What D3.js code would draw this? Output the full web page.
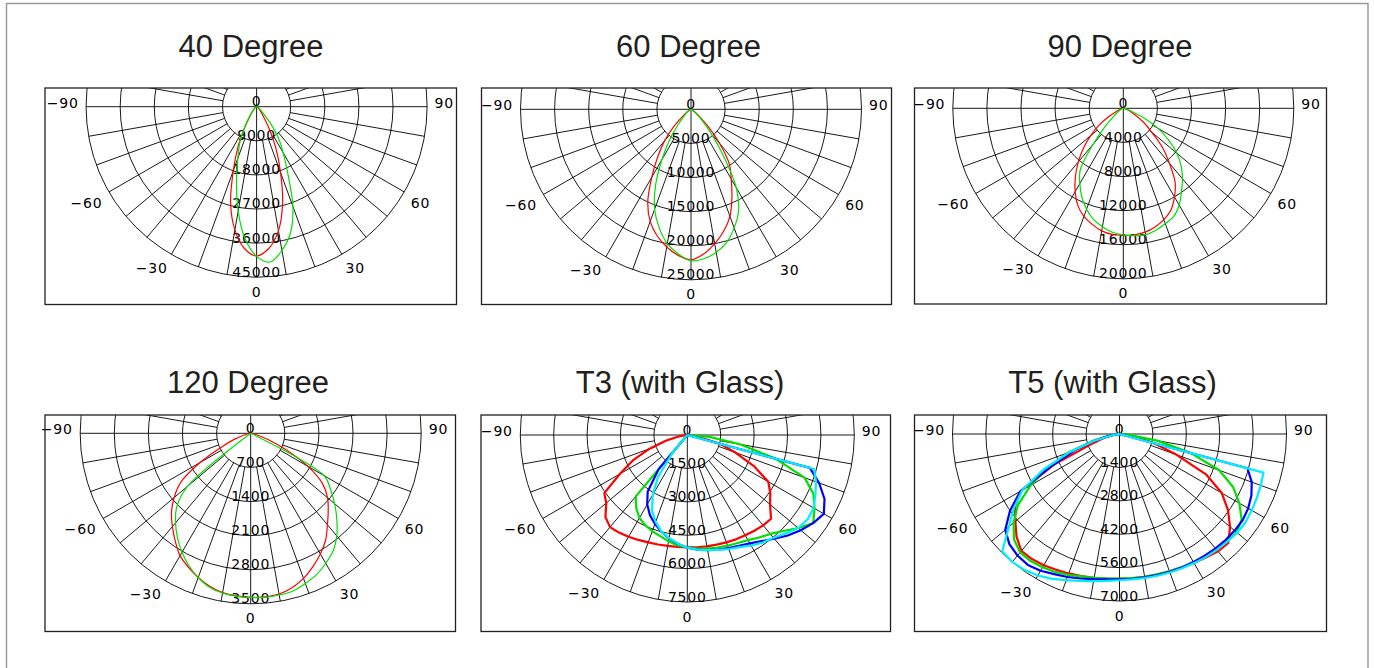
<!DOCTYPE html>
<html>
<head>
<meta charset="utf-8">
<script src="https://cdn.jsdelivr.net/npm/d3@7"></script>
<style>
  body { margin: 0; background: #fff; }
  svg { display: block; }
</style>
</head>
<body>
<svg id="chart" width="1374" height="668"></svg>
<script>
// gamma angles, degrees from nadir (negative = left side)
const angles = [-90, -85, -80, -75, -70, -65, -60, -55, -50, -45, -40, -35, -30, -25, -20, -15, -10, -5,
  0, 5, 10, 15, 20, 25, 30, 35, 40, 45, 50, 55, 60, 65, 70, 75, 80, 85, 90];

// ring labels per chart
const ticks40 = [0, 9000, 18000, 27000, 36000, 45000];
const ticks60 = [0, 5000, 10000, 15000, 20000, 25000];
const ticks90 = [0, 4000, 8000, 12000, 16000, 20000];
const ticks120 = [0, 700, 1400, 2100, 2800, 3500];
const ticksT3 = [0, 1500, 3000, 4500, 6000, 7500];
const ticksT5 = [0, 1400, 2800, 4200, 5600, 7000];

const angleLabels = [-90, -60, -30, 0, 30, 60, 90];

// intensity (cd)
const deg40Red = [0, 0, 0, 50, 100, 150, 300, 500, 700, 1000, 1800, 3000, 6000, 11500, 18000, 26500, 33000, 37500,
  39400, 37500, 33200, 26500, 18500, 12000, 6500, 3000, 1800, 1000, 700, 500, 300, 150, 100, 50, 0, 0, 0];
const deg40Green = [0, 0, 0, 50, 100, 200, 300, 500, 800, 1200, 2000, 3500, 6500, 10500, 14500, 20500, 28000, 35000,
  39500, 41150, 38500, 34500, 28000, 19500, 14000, 10000, 5500, 2500, 1500, 900, 500, 300, 150, 50, 0, 0, 0];

const deg60Red = [0, 0, 0, 50, 100, 200, 300, 700, 1500, 3500, 6000, 8500, 11500, 15000, 17500, 19200, 20500, 21500,
  22060, 21300, 20000, 18500, 16700, 14200, 11800, 9800, 6500, 3500, 1500, 700, 300, 200, 100, 50, 0, 0, 0];
const deg60Green = [0, 0, 0, 50, 100, 200, 300, 700, 1000, 1500, 3000, 5500, 8500, 12300, 15600, 18000, 20000, 21300,
  22200, 22000, 21300, 20200, 18500, 16500, 13300, 8300, 4500, 2200, 1000, 500, 300, 200, 100, 50, 0, 0, 0];

const deg90Red = [0, 0, 100, 250, 500, 1000, 2000, 3500, 5000, 6600, 8200, 9800, 11300, 12600, 13500, 14100, 14600, 14850,
  14900, 14900, 14750, 14400, 13900, 13200, 12000, 10600, 8400, 6500, 4300, 3000, 1800, 1000, 500, 250, 100, 0, 0];
const deg90Green = [0, 0, 0, 100, 200, 300, 500, 900, 1500, 3000, 5500, 8800, 10200, 11500, 12600, 13500, 14100, 14600,
  14850, 15000, 15050, 14800, 14400, 14000, 13100, 11900, 10800, 9600, 8200, 6500, 4700, 2500, 1000, 400, 100, 0, 0];

const deg120Red = [0, 20, 50, 150, 350, 650, 1200, 1750, 2050, 2300, 2500, 2700, 2900, 3030, 3150, 3250, 3320, 3350,
  3370, 3370, 3350, 3280, 3170, 3020, 2860, 2680, 2450, 2250, 2060, 1800, 1350, 800, 400, 150, 50, 20, 0];
const deg120Green = [0, 0, 0, 0, 0, 0, 0, 0, 1700, 2150, 2400, 2620, 2820, 3000, 3150, 3270, 3330, 3360,
  3370, 3380, 3370, 3350, 3280, 3200, 3080, 2950, 2750, 2500, 2250, 2000, 1740, 0, 0, 0, 0, 0, 0];

const t3Red = [0, 100, 400, 1000, 1800, 2700, 3500, 4550, 4750, 5200, 5400, 5350, 5280, 5200, 5130, 5090, 5060, 5045,
  5050, 5060, 5080, 5100, 5130, 5170, 5200, 5250, 5300, 5320, 4850, 4550, 4200, 3300, 2300, 1500, 500, 100, 0];
const t3Green = [0, 0, 0, 0, 0, 0, 0, 0, 0, 0, 3600, 4000, 4300, 4470, 4600, 4700, 4850, 4980,
  5050, 5120, 5180, 5230, 5290, 5350, 5450, 5620, 5800, 6100, 6500, 6900, 6600, 6250, 5600, 4100, 2400, 1000, 0];
const t3Blue = [0, 0, 0, 0, 0, 0, 0, 0, 0, 0, 2000, 3100, 3600, 3970, 4250, 4500, 4720, 4900,
  5060, 5170, 5250, 5330, 5400, 5490, 5620, 5820, 6080, 6380, 6650, 6900, 7080, 6800, 6300, 5700, 0, 0, 0];
const t3Cyan = [0, 0, 0, 0, 0, 0, 0, 0, 0, 0, 1000, 2300, 3100, 3750, 4150, 4490, 4700, 4900,
  5060, 5170, 5250, 5340, 5450, 5560, 5730, 5900, 6020, 6250, 6500, 6600, 6550, 6350, 6150, 5900, 0, 0, 0];

const t5Red = [0, 100, 300, 700, 1300, 3000, 4750, 5350, 5700, 6100, 6400, 6400, 6350, 6280, 6220, 6170, 6120, 6080,
  6070, 6070, 6080, 6100, 6120, 6160, 6240, 6320, 6420, 6450, 6050, 5550, 4950, 4000, 2550, 1500, 700, 200, 0];
const t5Green = [0, 100, 500, 1200, 2300, 3300, 4300, 5200, 5800, 6250, 6480, 6500, 6450, 6380, 6280, 6180, 6120, 6080,
  6060, 6060, 6075, 6090, 6120, 6160, 6200, 6250, 6300, 6360, 6410, 6250, 5800, 5250, 4450, 3100, 1600, 400, 0];
const t5Blue = [0, 100, 400, 1100, 2000, 3100, 4800, 5600, 6250, 6530, 6650, 6700, 6620, 6480, 6380, 6270, 6180, 6120,
  6090, 6090, 6100, 6120, 6150, 6180, 6200, 6230, 6260, 6290, 6300, 6300, 6230, 6100, 5900, 5550, 0, 0, 0];
const t5Cyan = [0, 100, 300, 1100, 2200, 3500, 4700, 5400, 6050, 6950, 7000, 6950, 6850, 6700, 6520, 6380, 6260, 6180,
  6130, 6120, 6130, 6150, 6180, 6210, 6250, 6300, 6340, 6385, 6440, 6450, 6400, 6350, 6300, 6250, 0, 0, 0];

const RED = "#ff0000", GREEN = "#00e000", BLUE = "#0000ff", CYAN = "#00eeff";
const smooth = d3.curveCatmullRom.alpha(0.5);

const panels = [
  { title: "40 Degree", tx: 251, ty: 57, box: [45, 88, 411.5, 216.5], cx: 256.6, cy: 106.7, r: 170.5,
    ticks: ticks40, lw: 1.2, curve: smooth, series: [[deg40Red, RED], [deg40Green, GREEN]] },
  { title: "60 Degree", tx: 688.5, ty: 57, box: [481.5, 88, 410, 216.5], cx: 691, cy: 109.3, r: 170.5,
    ticks: ticks60, lw: 1.2, curve: smooth, series: [[deg60Red, RED], [deg60Green, GREEN]] },
  { title: "90 Degree", tx: 1120, ty: 57, box: [914.5, 88, 412, 216], cx: 1123.3, cy: 108.3, r: 170.5,
    ticks: ticks90, lw: 1.2, curve: smooth, series: [[deg90Red, RED], [deg90Green, GREEN]] },
  { title: "120 Degree", tx: 248, ty: 393, box: [45, 415, 410.5, 216.5], cx: 250.7, cy: 433.3, r: 170.5,
    ticks: ticks120, lw: 1.2, curve: smooth, series: [[deg120Red, RED], [deg120Green, GREEN]] },
  { title: "T3 (with Glass)", tx: 680, ty: 393, box: [481, 415, 409.5, 216.5], cx: 687.3, cy: 435, r: 167,
    ticks: ticksT3, lw: 2.2, curve: d3.curveLinear, series: [[t3Red, RED], [t3Green, GREEN], [t3Blue, BLUE], [t3Cyan, CYAN]] },
  { title: "T5 (with Glass)", tx: 1112.5, ty: 393, box: [914.5, 415, 412, 216.5], cx: 1119.5, cy: 434, r: 167,
    ticks: ticksT5, lw: 2.2, curve: d3.curveLinear, series: [[t5Red, RED], [t5Green, GREEN], [t5Blue, BLUE], [t5Cyan, CYAN]] }
];

const svg = d3.select("#chart");
const rad = deg => deg * Math.PI / 180;

// outer frame
svg.append("rect")
  .attr("x", 6.5).attr("y", 3.5)
  .attr("width", 1361.5).attr("height", 700)
  .attr("fill", "none").attr("stroke", "#9a9a9a").attr("stroke-width", 1.5);

panels.forEach((p, i) => {
  const [bx, by, bw, bh] = p.box;
  const maxV = p.ticks[p.ticks.length - 1];
  const rScale = d3.scaleLinear().domain([0, maxV]).range([0, p.r]);

  // title
  svg.append("text")
    .attr("x", p.tx).attr("y", p.ty)
    .attr("text-anchor", "middle")
    .attr("font-family", "'Liberation Sans', Arial, sans-serif")
    .attr("font-size", 31)
    .attr("fill", "#231f20")
    .text(p.title);

  svg.append("clipPath").attr("id", "clip" + i)
    .append("rect").attr("x", bx).attr("y", by).attr("width", bw).attr("height", bh);

  // clip group stays untransformed so the clip rect is in page coordinates
  const grid = svg.append("g")
    .attr("clip-path", `url(#clip${i})`)
    .append("g")
    .attr("transform", `translate(${p.cx},${p.cy})`)
    .attr("stroke", "#000").attr("stroke-width", 0.9).attr("fill", "none");

  // rings
  grid.selectAll("circle")
    .data(p.ticks.slice(1))
    .enter().append("circle")
    .attr("r", d => rScale(d));

  // spokes every 10 degrees, starting at the first ring
  const spokes = d3.range(0, 360, 10);
  const inner = rScale(p.ticks[1]);
  grid.selectAll("line")
    .data(spokes)
    .enter().append("line")
    .attr("x1", d => (d % 90 === 0 ? 0 : inner) * Math.sin(rad(d)))
    .attr("y1", d => (d % 90 === 0 ? 0 : inner) * Math.cos(rad(d)))
    .attr("x2", d => p.r * Math.sin(rad(d)))
    .attr("y2", d => p.r * Math.cos(rad(d)));

  const g = svg.append("g").attr("transform", `translate(${p.cx},${p.cy})`);

  // angle labels
  const lr = p.r + 7.5;
  g.selectAll("text.ang")
    .data(angleLabels)
    .enter().append("text")
    .attr("class", "ang")
    .attr("x", d => lr * Math.sin(rad(d)))
    .attr("y", d => Math.abs(d) === 90 ? -4 : lr * Math.cos(rad(d)) + 7)
    .attr("dy", "0.36em")
    .attr("text-anchor", d => d < 0 ? "end" : d > 0 ? "start" : "middle")
    .attr("font-family", "'DejaVu Sans', sans-serif")
    .attr("font-size", 14)
    .attr("letter-spacing", 0.8)
    .attr("fill", "#000")
    .text(d => d < 0 ? "\u2212" + Math.abs(d) : String(d));

  // ring value labels
  g.selectAll("text.ring")
    .data(p.ticks)
    .enter().append("text")
    .attr("class", "ring")
    .attr("x", 0)
    .attr("y", d => rScale(d) - 0.5)
    .attr("text-anchor", "middle")
    .attr("font-family", "'DejaVu Sans', sans-serif")
    .attr("font-size", 14)
    .attr("letter-spacing", 0.8)
    .attr("fill", "#000")
    .text(d => d);

  // intensity curves
  const line = d3.lineRadial()
    .angle(d => Math.PI - rad(d[0]))
    .radius(d => rScale(d[1]))
    .curve(p.curve);

  g.selectAll("path.curve")
    .data(p.series)
    .enter().append("path")
    .attr("class", "curve")
    .attr("d", d => line(angles.map((a, k) => [a, d[0][k]])))
    .attr("fill", "none")
    .attr("stroke", d => d[1])
    .attr("stroke-width", p.lw)
    .attr("stroke-linejoin", "round");

  // panel frame
  svg.append("rect")
    .attr("x", bx).attr("y", by).attr("width", bw).attr("height", bh)
    .attr("fill", "none").attr("stroke", "#231f20").attr("stroke-width", 1.3);
});
</script>
</body>
</html>
